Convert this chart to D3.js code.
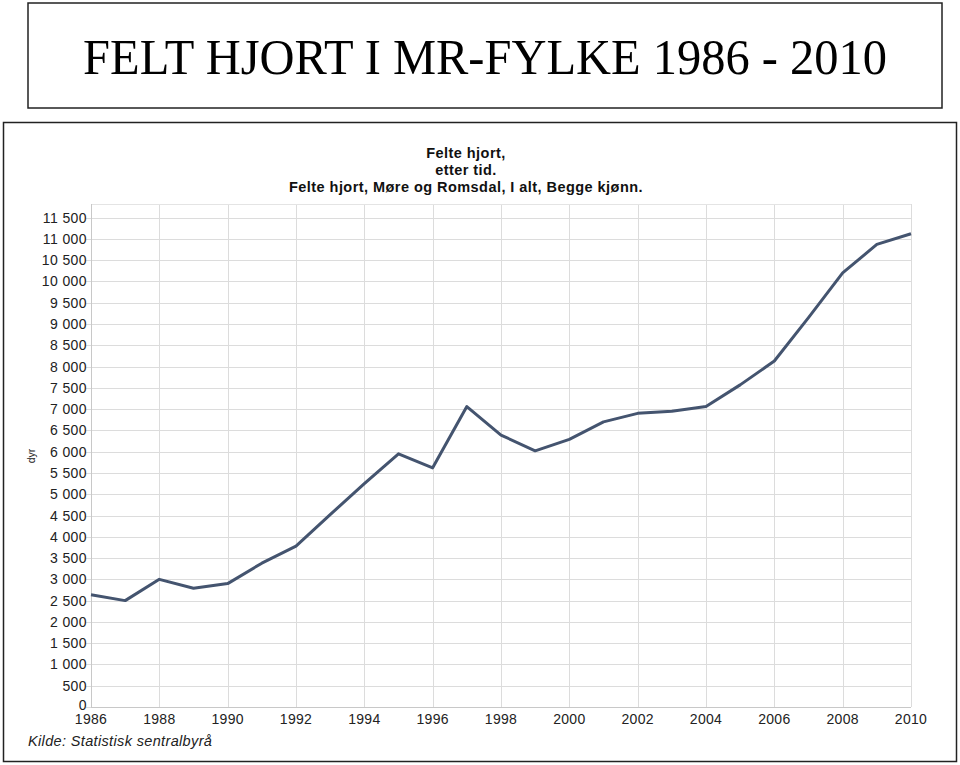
<!DOCTYPE html>
<html><head><meta charset="utf-8">
<script src="https://cdn.jsdelivr.net/npm/d3@7"></script>
<style>body{margin:0;background:#fff}svg{display:block}</style>
</head><body>
<svg id="c" width="960" height="765"></svg>
<script>
const years = [1986,1987,1988,1989,1990,1991,1992,1993,1994,1995,1996,1997,1998,1999,2000,2001,2002,2003,2004,2005,2006,2007,2008,2009,2010];
const values = [2640,2500,3000,2790,2900,3380,3780,4520,5250,5950,5620,7060,6390,6020,6290,6700,6900,6950,7060,7570,8130,9150,10200,10870,11120];
const yTicks = d3.range(0, 11501, 500);
const xTicks = d3.range(1986, 2011, 2);
const titleLines = ["Felte hjort,", "etter tid.", "Felte hjort, Møre og Romsdal, I alt, Begge kjønn."];

const svg = d3.select("#c");
const sans = "Liberation Sans, Arial, sans-serif";
// top banner
svg.append("rect").attr("x",28).attr("y",3).attr("width",914).attr("height",105)
  .attr("fill","#fff").attr("stroke","#222").attr("stroke-width",1.5);
const big = svg.append("text").attr("x",0).attr("y",0).attr("text-anchor","middle")
  .attr("font-family","Liberation Serif, Times New Roman, serif").attr("font-size",51)
  .text("FELT HJORT I MR-FYLKE 1986 - 2010");
const bw = big.node().getComputedTextLength();
big.attr("transform",`translate(485,74) scale(${804/bw},1)`);

// chart frame
svg.append("rect").attr("x",3.5).attr("y",122.5).attr("width",953).attr("height",639)
  .attr("fill","#fff").attr("stroke","#222").attr("stroke-width",1.5);

const x = d3.scaleLinear().domain([1986,2010]).range([91,911]);
const y = d3.scaleLinear().domain([0,11820]).range([707,204]);

const g = svg.append("g");
// grid
g.selectAll(".hg").data(yTicks).join("line")
  .attr("x1",86).attr("x2",911).attr("y1",d=>Math.round(y(d))+0.5).attr("y2",d=>Math.round(y(d))+0.5)
  .attr("stroke","#dcdcdc");
g.selectAll(".vg").data(xTicks).join("line")
  .attr("x1",d=>Math.round(x(d))+0.5).attr("x2",d=>Math.round(x(d))+0.5)
  .attr("y1",204).attr("y2",707).attr("stroke","#dcdcdc");
g.append("line").attr("x1",91).attr("x2",911).attr("y1",204.5).attr("y2",204.5).attr("stroke","#e4e4e4");
g.append("line").attr("x1",91.5).attr("x2",91.5).attr("y1",204).attr("y2",708).attr("stroke","#c8c8c8");
g.append("line").attr("x1",91).attr("x2",911).attr("y1",707.5).attr("y2",707.5).attr("stroke","#c8c8c8");

// y labels
g.selectAll(".yl").data(yTicks).join("text")
  .attr("x",87).attr("y",d=>d===0 ? y(d)-2 : y(d)).attr("dy","0.36em").attr("text-anchor","end")
  .attr("font-family",sans).attr("font-size",14).attr("letter-spacing",0.4).attr("fill","#222")
  .text(d=>d3.format(",")(d).replace(/,/g," "));
// x labels
g.selectAll(".xl").data(xTicks).join("text")
  .attr("x",d=>x(d)).attr("y",719).attr("dy","0.36em").attr("text-anchor","middle")
  .attr("font-family",sans).attr("font-size",14).attr("letter-spacing",0.3).attr("fill","#222")
  .text(d=>d);

// line
const line = d3.line().x((d,i)=>x(years[i])).y(d=>y(d));
g.append("path").datum(values).attr("d",line).attr("fill","none")
  .attr("stroke","#44546f").attr("stroke-width",3).attr("stroke-linejoin","round");

// titles
svg.selectAll(".tt").data(titleLines).join("text")
  .attr("x",466).attr("y",(d,i)=>153+i*16.8).attr("dy","0.36em").attr("text-anchor","middle")
  .attr("font-family",sans).attr("font-weight","bold").attr("font-size",14.5).attr("letter-spacing",0.45)
  .attr("fill","#111").text(d=>d);

// axis title
svg.append("text").attr("transform","translate(31,456) rotate(-90)").attr("text-anchor","middle")
  .attr("dy","0.36em").attr("font-family",sans).attr("font-size",10.5)
  .attr("fill","#222").text("dyr");

// source
svg.append("text").attr("x",28).attr("y",741).attr("dy","0.36em")
  .attr("font-family",sans).attr("font-style","italic").attr("font-size",14.5).attr("letter-spacing",0.35)
  .attr("fill","#222").text("Kilde: Statistisk sentralbyrå");
</script>
</body></html>
